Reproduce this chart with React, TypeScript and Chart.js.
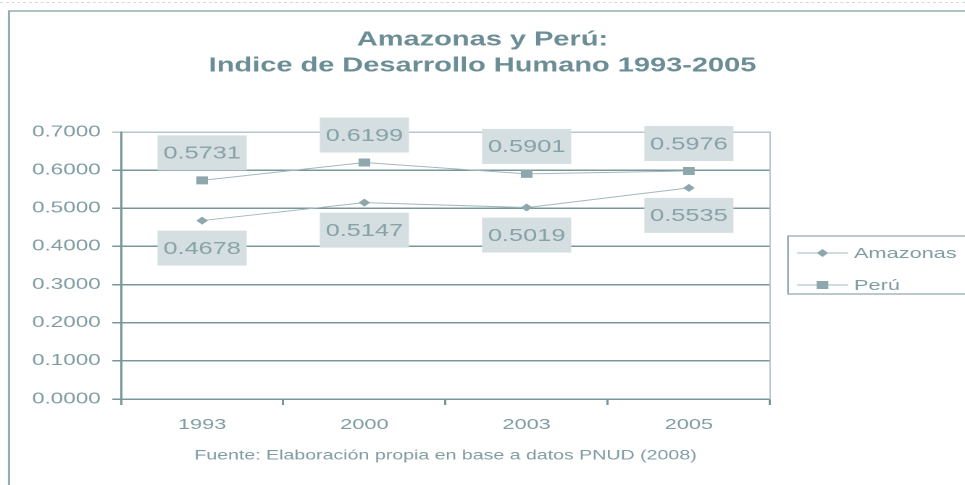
import React, { useEffect, useRef } from 'react';
import { Chart, registerables } from 'chart.js';

Chart.register(...registerables);

// ---- data ----
const years = ['1993', '2000', '2003', '2005'];
const amazonas = [0.4678, 0.5147, 0.5019, 0.5535];
const peru = [0.5731, 0.6199, 0.5901, 0.5976];
const seriesNames = ['Amazonas', 'Perú'];
const titleLines = ['Amazonas y Perú:', 'Indice de Desarrollo Humano 1993-2005'];
const sourceNote = 'Fuente: Elaboración propia en base a datos PNUD (2008)';
const yMin = 0;
const yMax = 0.7;
const yStep = 0.1;

// ---- look ----
const W = 965;
const H = 485;
const SX = 1.45; // the reference is horizontally stretched
const LW = Math.round(W / SX);
const sx = (v: number) => (v * LW) / W;

const FONT = "'Liberation Sans', Arial, sans-serif";
const C_TITLE = '#6b8d95';
const C_TEXT = '#7f9ca3';
const C_GRID = '#79969d';
const C_LIGHT = '#b4c7cb';
const C_LINE = '#a3b8bd';
const C_MARK = '#8ea7ad';
const C_BOX = '#d5dfe1';
const C_LABEL = '#87a2a8';

function drawMarker(ctx: CanvasRenderingContext2D, kind: string, x: number, y: number) {
  ctx.beginPath();
  if (kind === 'rectRot') {
    const r = 4;
    ctx.moveTo(x, y - r);
    ctx.lineTo(x + r, y);
    ctx.lineTo(x, y + r);
    ctx.lineTo(x - r, y);
    ctx.closePath();
  } else {
    ctx.rect(x - 4, y - 4, 8, 8);
  }
  ctx.fill();
}

const decor = {
  id: 'decor',
  beforeDraw(chart: any) {
    const ctx = chart.ctx as CanvasRenderingContext2D;
    ctx.save();
    ctx.strokeStyle = '#cdd9dc';
    ctx.lineWidth = 1;
    ctx.setLineDash([2, 2]);
    ctx.beginPath();
    ctx.moveTo(0, 2.5);
    ctx.lineTo(LW, 2.5);
    ctx.stroke();
    ctx.setLineDash([]);
    ctx.strokeStyle = '#93adb2';
    ctx.lineWidth = 1.5;
    ctx.beginPath();
    ctx.moveTo(LW + 2, 11);
    ctx.lineTo(sx(9), 11);
    ctx.lineTo(sx(9), H + 2);
    ctx.stroke();
    ctx.restore();
  },
  afterDatasetsDraw(chart: any) {
    const ctx = chart.ctx as CanvasRenderingContext2D;
    ctx.save();
    ctx.font = `17.5px ${FONT}`;
    ctx.textAlign = 'center';
    ctx.textBaseline = 'middle';
    chart.data.datasets.forEach((ds: any, di: number) => {
      const meta = chart.getDatasetMeta(di);
      meta.data.forEach((pt: any, i: number) => {
        const txt = Number(ds.data[i]).toFixed(4);
        const tw = ctx.measureText(txt).width;
        const bw = tw + 8;
        const bh = 35;
        const above = di === 1;
        const top = above ? pt.y - 10 - bh : pt.y + 10;
        ctx.fillStyle = C_BOX;
        ctx.fillRect(pt.x - bw / 2, top, bw, bh);
        ctx.fillStyle = C_LABEL;
        ctx.fillText(txt, pt.x, top + bh / 2 + 1);
      });
    });
    ctx.restore();
  },
  afterDraw(chart: any) {
    const ctx = chart.ctx as CanvasRenderingContext2D;
    ctx.save();
    const lx = sx(788);
    const ly = 236;
    const lh = 58;
    ctx.strokeStyle = '#8aa5ab';
    ctx.lineWidth = 1.2;
    ctx.strokeRect(lx, ly, LW - lx + 5, lh);
    const rows = [253, 285];
    chart.data.datasets.forEach((ds: any, i: number) => {
      const y = rows[i];
      ctx.strokeStyle = ds.borderColor;
      ctx.lineWidth = 1;
      ctx.beginPath();
      ctx.moveTo(sx(797), y);
      ctx.lineTo(sx(848), y);
      ctx.stroke();
      ctx.fillStyle = ds.pointBackgroundColor;
      drawMarker(ctx, ds.pointStyle, sx(822.5), y);
      ctx.fillStyle = C_TEXT;
      ctx.font = `15px ${FONT}`;
      ctx.textAlign = 'left';
      ctx.textBaseline = 'middle';
      ctx.fillText(ds.label, sx(854), y + 1);
    });
    ctx.restore();
  },
};

export default function App() {
  const ref = useRef<HTMLCanvasElement>(null);
  useEffect(() => {
    const canvas = ref.current;
    if (!canvas) return;
    Chart.defaults.font.family = FONT;
    const chart = new Chart(canvas, {
      type: 'line',
      data: {
        labels: years,
        datasets: [
          {
            label: seriesNames[0],
            data: amazonas,
            borderColor: C_LINE,
            borderWidth: 1,
            pointStyle: 'rectRot',
            pointRadius: 4,
            pointBackgroundColor: C_MARK,
            pointBorderColor: C_MARK,
            pointBorderWidth: 0,
            tension: 0,
          },
          {
            label: seriesNames[1],
            data: peru,
            borderColor: C_LINE,
            borderWidth: 1,
            pointStyle: 'rect',
            pointRadius: 5.66,
            pointBackgroundColor: C_MARK,
            pointBorderColor: C_MARK,
            pointBorderWidth: 0,
            tension: 0,
          },
        ],
      },
      options: {
        responsive: false,
        animation: false,
        devicePixelRatio: 2,
        layout: { padding: 0 },
        plugins: {
          legend: { display: false },
          tooltip: { enabled: false },
          title: {
            display: true,
            text: titleLines,
            color: C_TITLE,
            font: { size: 20, weight: 'bold', lineHeight: 1.3, family: FONT },
            padding: { top: 27, bottom: 53 },
          },
        },
        scales: {
          x: {
            type: 'category',
            offset: true,
            grid: {
              display: true,
              drawOnChartArea: false,
              drawTicks: true,
              tickLength: 6,
              color: C_GRID,
              lineWidth: 1.5,
              offset: true,
            },
            border: { display: true, color: C_GRID, width: 1.5 },
            ticks: { color: C_TEXT, font: { size: 15 }, padding: 11, maxRotation: 0 },
            title: {
              display: true,
              text: sourceNote,
              color: C_TEXT,
              font: { size: 13.5 },
              padding: { top: 0, bottom: 21 },
            },
            afterFit: (s: any) => {
              s.height = 86;
            },
          },
          y: {
            min: yMin,
            max: yMax,
            ticks: {
              stepSize: yStep,
              callback: (v: any) => Number(v).toFixed(4),
              color: C_TEXT,
              font: { size: 15.5 },
              padding: 8,
            },
            grid: {
              color: (c: any) =>
                c.tick && Math.abs(c.tick.value - yMax) < 1e-6 && c.type === 'tick' ? C_LIGHT : C_GRID,
              lineWidth: 1.5,
              tickLength: 6,
            },
            border: { display: true, color: C_GRID, width: 1.5 },
            afterFit: (s: any) => {
              s.width = sx(121);
            },
          },
          yR: {
            position: 'right',
            display: true,
            grid: { display: false },
            ticks: { display: false },
            border: { display: true, color: C_LIGHT, width: 1 },
            afterFit: (s: any) => {
              s.width = LW - sx(770);
            },
          },
        },
      },
      plugins: [decor],
    } as any);
    return () => chart.destroy();
  }, []);

  return (
    <div
      style={{
        position: 'absolute',
        left: 0,
        top: 0,
        width: W,
        height: H,
        overflow: 'hidden',
        background: '#ffffff',
      }}
    >
      <canvas
        ref={ref}
        width={LW}
        height={H}
        style={{ display: 'block', transform: `scaleX(${W / LW})`, transformOrigin: '0 0' }}
      />
    </div>
  );
}
